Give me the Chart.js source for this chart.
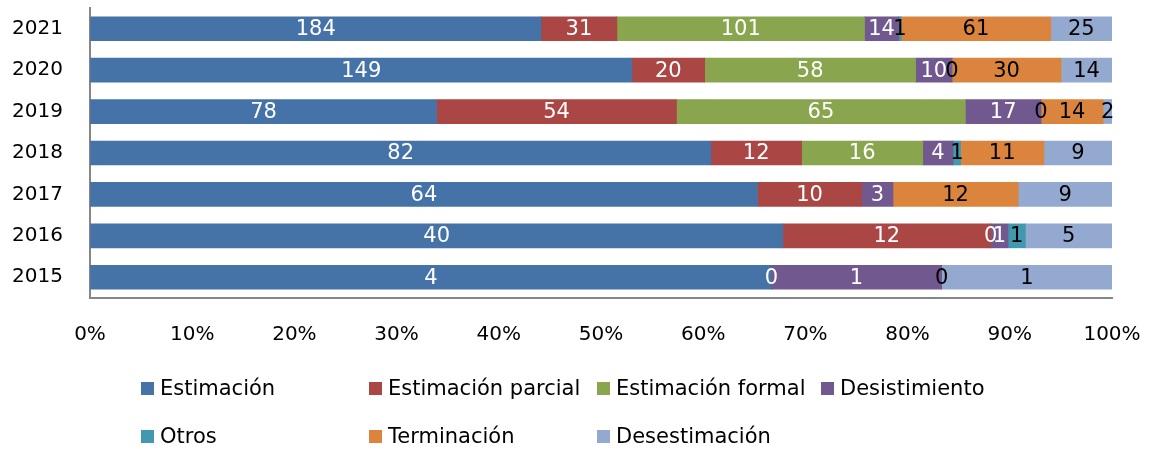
<!DOCTYPE html>
<html>
<head>
<meta charset="utf-8">
<script src="https://cdn.jsdelivr.net/npm/chart.js@4"></script>
<style>
  html, body { margin: 0; padding: 0; background: #fff; }
  #wrap { position: relative; width: 1151px; height: 450px; }
  #legend {
    position: absolute; left: 141px; top: 374px;
    display: grid; grid-template-columns: 228px 228px 224px 228px;
    row-gap: 20px;
    font-family: "DejaVu Sans", sans-serif; font-size: 21px; color: #000;
  }
  .item { display: flex; align-items: center; height: 28px; white-space: nowrap; }
  .box { width: 13px; height: 13px; margin-right: 6px; flex: none; }
</style>
</head>
<body>
<div id="wrap">
  <canvas id="chart" width="1151" height="450"></canvas>
  <div id="legend"></div>
</div>
<script>
// ─── DATA ────────────────────────────────────────────────────────────────
const years         = ["2021", "2020", "2019", "2018", "2017", "2016", "2015"];
const estimacion    = [184, 149, 78, 82, 64, 40, 4];
const parcial       = [31, 20, 54, 12, 10, 12, 0];
const formal        = [101, 58, 65, 16, null, 0, null];
const desistimiento = [14, 10, 17, 4, 3, 1, 1];
const otros         = [1, 0, 0, 1, null, 1, 0];
const terminacion   = [61, 30, 14, 11, 12, null, null];
const desestimacion = [25, 14, 2, 9, 9, 5, 1];
const xTicks        = [0, 10, 20, 30, 40, 50, 60, 70, 80, 90, 100];

const SERIES = [
  { name: "Estimación",         values: estimacion,    color: "#4572A7", text: "#fff" },
  { name: "Estimación parcial", values: parcial,       color: "#AA4643", text: "#fff" },
  { name: "Estimación formal",  values: formal,        color: "#89A54E", text: "#fff" },
  { name: "Desistimiento",      values: desistimiento, color: "#71588F", text: "#fff" },
  { name: "Otros",              values: otros,         color: "#4198AF", text: "#000" },
  { name: "Terminación",        values: terminacion,   color: "#DB843D", text: "#000" },
  { name: "Desestimación",      values: desestimacion, color: "#93A9CF", text: "#000" }
];

const FONT = "'DejaVu Sans', sans-serif";

// totals per year, to turn counts into shares of 100%
const totals = years.map((_, i) =>
  SERIES.reduce((s, ser) => s + (ser.values[i] || 0), 0)
);

// ─── VALUE LABELS (raw counts in the middle of each segment) ─────────────
const valueLabels = {
  id: "valueLabels",
  afterDatasetsDraw(chart) {
    const ctx = chart.ctx;
    ctx.save();
    ctx.font = "21px " + FONT;
    ctx.textAlign = "center";
    ctx.textBaseline = "middle";
    chart.data.datasets.forEach((ds, di) => {
      const meta = chart.getDatasetMeta(di);
      meta.data.forEach((el, i) => {
        const raw = SERIES[di].values[i];
        if (raw === null || raw === undefined) return;
        ctx.fillStyle = SERIES[di].text;
        ctx.fillText(String(raw), (el.x + el.base) / 2, el.y + 1);
      });
    });
    ctx.restore();
  }
};

new Chart(document.getElementById("chart"), {
  type: "bar",
  data: {
    labels: years,
    datasets: SERIES.map(s => ({
      label: s.name,
      data: s.values.map((v, i) => v === null ? null : v / totals[i] * 100),
      backgroundColor: s.color,
      borderWidth: 0,
      barThickness: 24
    }))
  },
  options: {
    indexAxis: "y",
    responsive: false,
    animation: false,
    layout: { padding: { top: 8, right: 39, left: 0, bottom: 0 } },
    plugins: {
      legend: { display: false },
      tooltip: { enabled: false }
    },
    scales: {
      x: {
        stacked: true,
        min: 0,
        max: 100,
        afterFit: s => { s.height = 152; },
        afterBuildTicks: s => { s.ticks = xTicks.map(v => ({ value: v })); },
        grid: { display: true, drawOnChartArea: false, drawTicks: true, tickLength: 25, color: "rgba(0,0,0,0)" },
        border: { display: true, color: "#868686", width: 2 },
        ticks: {
          color: "#000",
          padding: 0,
          maxRotation: 0,
          font: { family: FONT, size: 20 },
          callback: v => v + "%"
        }
      },
      y: {
        stacked: true,
        afterFit: s => { s.width = 90; },
        grid: { display: true, drawOnChartArea: false, drawTicks: true, tickLength: 27, color: "rgba(0,0,0,0)" },
        border: { display: true, color: "#868686", width: 2 },
        ticks: {
          color: "#000",
          padding: 0,
          font: { family: FONT, size: 20, lineHeight: 0.8 }
        }
      }
    }
  },
  plugins: [valueLabels]
});

// ─── LEGEND ──────────────────────────────────────────────────────────────
const legendEl = document.getElementById("legend");
SERIES.forEach(s => {
  const item = document.createElement("div");
  item.className = "item";
  item.innerHTML = `<span class="box" style="background:${s.color}"></span><span>${s.name}</span>`;
  legendEl.appendChild(item);
});
</script>
</body>
</html>
